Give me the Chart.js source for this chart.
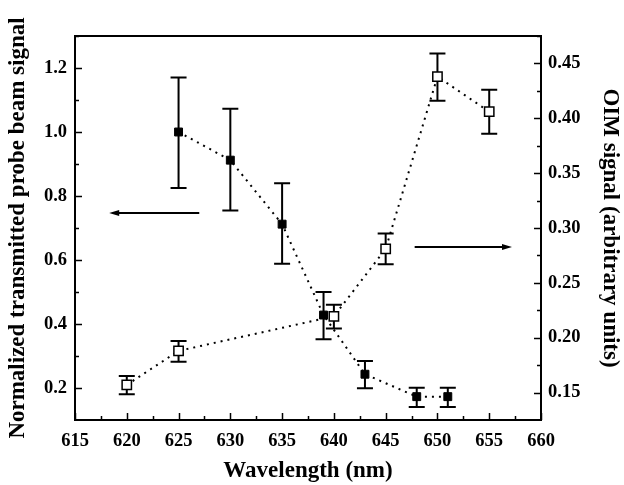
<!DOCTYPE html>
<html lang="en">
<head>
  <meta charset="utf-8" />
  <title>Transmitted probe beam and OIM signal</title>
  <style>
body { margin: 0; background: #fff; }
#myChart { display: block; }
  </style>
</head>
<body>
  <canvas id="myChart" width="624" height="485"></canvas>
  <script src="https://cdn.jsdelivr.net/npm/chart.js"></script>
  <script>

// filled squares -> left axis
const wlFilled = [625, 630, 635, 639, 643, 648, 651];
const transSignal = [1.0, 0.912, 0.712, 0.428, 0.243, 0.173, 0.173];
const transHigh = [1.17, 1.073, 0.84, 0.50, 0.284, 0.201, 0.201];
const transLow = [0.825, 0.755, 0.588, 0.352, 0.199, 0.141, 0.141];

// open squares -> right axis
const wlOpen = [620, 625, 640, 645, 650, 655];
const oimSignal = [0.157, 0.188, 0.2195, 0.281, 0.438, 0.406];
const oimHigh = [0.165, 0.197, 0.230, 0.295, 0.459, 0.426];
const oimLow = [0.1485, 0.178, 0.2085, 0.267, 0.416, 0.386];

const xTicks = [615, 620, 625, 630, 635, 640, 645, 650, 655, 660];
const leftTicks = [0.2, 0.4, 0.6, 0.8, 1.0, 1.2];
const rightTicks = [0.15, 0.20, 0.25, 0.30, 0.35, 0.40, 0.45];

const serif = "'Liberation Serif', 'DejaVu Serif', serif";
const tickFont = { family: serif, size: 18.5, weight: 'bold' };
const titleFont = { family: serif, size: 23, weight: 'bold' };

// arrows showing which axis belongs to which curve (data units)
const arrows = [
  { axis: 'y', x0: 627.0, x1: 618.3, y: 0.747 },
  { axis: 'y2', x0: 647.8, x1: 657.2, y: 0.283 }
];

function pts(xs, ys) {
  return xs.map((x, i) => ({ x: x, y: ys[i] }));
}

const decor = {
  id: 'decor',
  beforeDatasetsDraw(chart) {
    const ctx = chart.ctx;
    const sx = chart.scales.x;
    ctx.save();
    ctx.strokeStyle = '#000';
    ctx.lineWidth = 2;
    const bars = function (xs, hi, lo, sy) {
      xs.forEach((x, i) => {
        const px = sx.getPixelForValue(x);
        const top = sy.getPixelForValue(hi[i]);
        const bot = sy.getPixelForValue(lo[i]);
        ctx.beginPath();
        ctx.moveTo(px, top); ctx.lineTo(px, bot);
        ctx.moveTo(px - 8, top); ctx.lineTo(px + 8, top);
        ctx.moveTo(px - 8, bot); ctx.lineTo(px + 8, bot);
        ctx.stroke();
      });
    };
    bars(wlFilled, transHigh, transLow, chart.scales.y);
    bars(wlOpen, oimHigh, oimLow, chart.scales.y2);
    ctx.restore();
  },
  afterDraw(chart) {
    const ctx = chart.ctx;
    const a = chart.chartArea;
    ctx.save();
    ctx.strokeStyle = '#000';
    ctx.lineWidth = 2;
    ctx.strokeRect(a.left, a.top, a.right - a.left, a.bottom - a.top);
    ctx.lineWidth = 1.5;
    ctx.beginPath();
    // inward ticks, minor ones in between
    const sx = chart.scales.x;
    for (let v = 615; v <= 660.01; v += 2.5) {
      const p = Math.round(sx.getPixelForValue(v)) + 0.5;
      const len = (Math.abs(v / 5 - Math.round(v / 5)) < 1e-6) ? 7 : 4;
      ctx.moveTo(p, a.bottom); ctx.lineTo(p, a.bottom - len);
    }
    const sy = chart.scales.y;
    for (let v = 0.2; v <= 1.3; v += 0.1) {
      const p = Math.round(sy.getPixelForValue(v)) + 0.5;
      const len = (Math.round(v * 10) % 2 === 0) ? 7 : 4;
      ctx.moveTo(a.left, p); ctx.lineTo(a.left + len, p);
    }
    const sy2 = chart.scales.y2;
    for (let v = 0.15; v <= 0.476; v += 0.025) {
      const p = Math.round(sy2.getPixelForValue(v)) + 0.5;
      const len = (Math.round(v * 40) % 2 === 0) ? 7 : 4;
      ctx.moveTo(a.right, p); ctx.lineTo(a.right - len, p);
    }
    ctx.stroke();

    ctx.lineWidth = 2;
    ctx.fillStyle = '#000';
    arrows.forEach(ar => {
      const s = chart.scales[ar.axis];
      const x0 = sx.getPixelForValue(ar.x0);
      const x1 = sx.getPixelForValue(ar.x1);
      const y = Math.round(s.getPixelForValue(ar.y));
      const dir = Math.sign(x1 - x0);
      ctx.beginPath();
      ctx.moveTo(x0, y); ctx.lineTo(x1 - dir * 6, y);
      ctx.stroke();
      ctx.beginPath();
      ctx.moveTo(x1, y);
      ctx.lineTo(x1 - dir * 10, y - 3);
      ctx.lineTo(x1 - dir * 10, y + 3);
      ctx.closePath();
      ctx.fill();
    });
    ctx.restore();
  }
};

const data = {
  datasets: [{
    label: 'Normalized transmitted probe beam signal',
    data: pts(wlFilled, transSignal),
    yAxisID: 'y',
    showLine: true,
    borderColor: '#000',
    borderWidth: 2,
    borderDash: [2, 5],
    pointStyle: 'rect',
    pointRadius: 5.6,
    pointBackgroundColor: '#000',
    pointBorderColor: '#000',
    pointBorderWidth: 1,
    tension: 0
  },
  {
    label: 'OIM signal',
    data: pts(wlOpen, oimSignal),
    yAxisID: 'y2',
    showLine: true,
    borderColor: '#000',
    borderWidth: 2,
    borderDash: [2, 5],
    pointStyle: 'rect',
    pointRadius: 6.6,
    pointBackgroundColor: '#fff',
    pointBorderColor: '#000',
    pointBorderWidth: 1.5,
    tension: 0
  }]
};

const config = {
  type: 'scatter',
  data: data,
  plugins: [decor],
  options: {
    responsive: false,
    animation: false,
    layout: { padding: { top: 36, left: 0, right: 0, bottom: 0 } },
    plugins: {
      legend: { display: false },
      tooltip: { enabled: false }
    },
    scales: {
      x: {
        type: 'linear',
        min: 615,
        max: 660,
        afterBuildTicks: s => { s.ticks = xTicks.map(v => ({ value: v })); },
        afterFit: s => { s.height = 65; },
        grid: { display: false, drawTicks: false },
        border: { display: false },
        ticks: { color: '#000', font: tickFont, padding: 10, maxRotation: 0,
                 callback: v => String(v) },
        title: { display: true, text: 'Wavelength (nm)', color: '#000',
                 font: titleFont, padding: { top: 0, bottom: 0 } }
      },
      y: {
        type: 'linear',
        position: 'left',
        min: 0.1,
        max: 1.3,
        afterBuildTicks: s => { s.ticks = leftTicks.map(v => ({ value: v })); },
        afterFit: s => { s.width = 75; },
        grid: { display: false, drawTicks: false },
        border: { display: false },
        ticks: { color: '#000', font: tickFont, padding: 8,
                 callback: v => v.toFixed(1) },
        title: { display: true, text: 'Normalized transmitted probe beam signal',
                 color: '#000', font: titleFont, padding: { top: 4, bottom: 0 } }
      },
      y2: {
        type: 'linear',
        position: 'right',
        min: 0.125,
        max: 0.475,
        afterBuildTicks: s => { s.ticks = rightTicks.map(v => ({ value: v })); },
        afterFit: s => { s.width = 83; },
        grid: { display: false, drawTicks: false },
        border: { display: false },
        ticks: { color: '#000', font: tickFont, padding: 7,
                 callback: v => v.toFixed(2) },
        title: { display: true, text: 'OIM signal (arbitrary units)',
                 color: '#000', font: titleFont, padding: { top: 0, bottom: 0 } }
      }
    }
  }
};

const chart = new Chart(document.getElementById('myChart'), config);
  </script>
</body>
</html>
